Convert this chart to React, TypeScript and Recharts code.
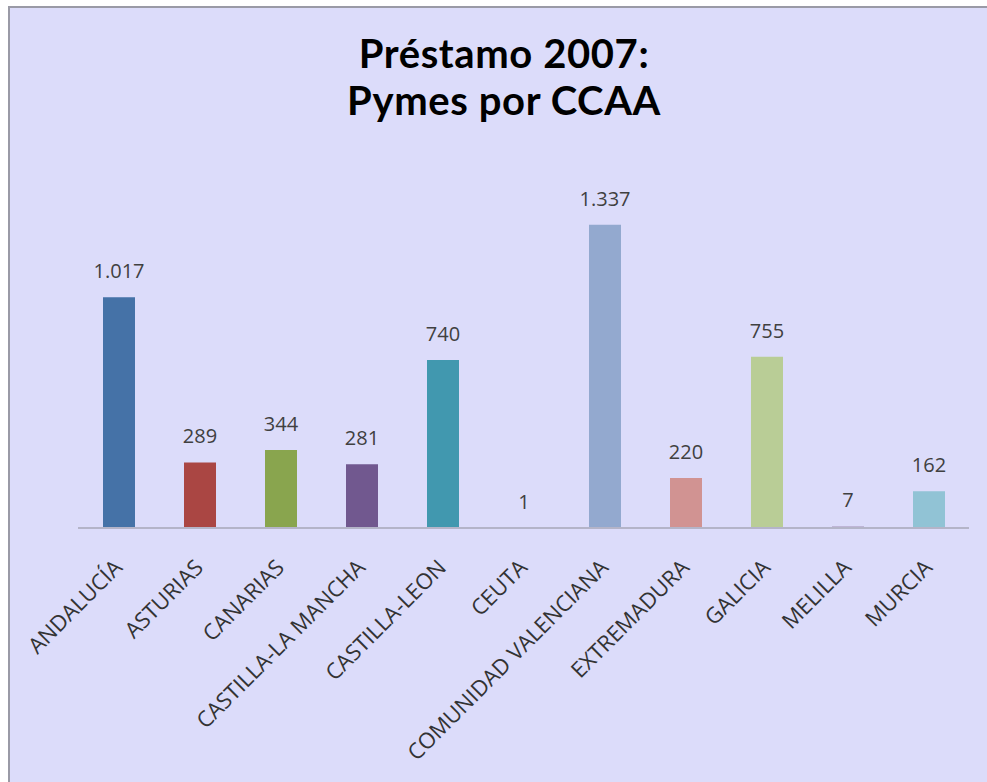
import { BarChart, Bar, XAxis, YAxis, Cell, LabelList } from 'recharts'

const regions = [
  'ANDALUCÍA', 'ASTURIAS', 'CANARIAS', 'CASTILLA-LA MANCHA', 'CASTILLA-LEON', 'CEUTA',
  'COMUNIDAD VALENCIANA', 'EXTREMADURA', 'GALICIA', 'MELILLA', 'MURCIA',
]
const pymes = [1017, 289, 344, 281, 740, 1, 1337, 220, 755, 7, 162]
const barColors = [
  '#4572A7', '#AA4643', '#89A54E', '#71588F', '#4198AF', '#DB843D',
  '#93A9CF', '#D19392', '#B9CD96', '#A99BBD', '#91C3D5',
]
const titleLines = ['Préstamo 2007:', 'Pymes por CCAA']

const data = regions.map((region, i) => ({ region, value: pymes[i] }))

// Spanish style thousands: 1.017
const fmt = (v: number) => String(v).replace(/\B(?=(\d{3})+(?!\d))/g, '.')

const font = '"Open Sans", "Noto Sans", sans-serif'

function RegionTick({ x, y, payload }: any) {
  const tx = x + 5
  const ty = y + 33
  return (
    <text
      x={tx}
      y={ty}
      transform={`rotate(-45 ${tx} ${ty})`}
      textAnchor="end"
      fontFamily={font}
      fontSize={22}
      fill="#333"
    >
      {payload.value}
    </text>
  )
}

export default function App() {
  return (
    <div
      style={{
        position: 'absolute', top: 0, left: 0, width: 987, height: 782,
        overflow: 'hidden', background: '#fff',
      }}
    >
      <div
        style={{
          position: 'absolute', left: 8, top: 6, width: 990, height: 790,
          background: '#dcdcfa', border: '2px solid #9a9aa6',
        }}
      />
      {titleLines.map((t, i) => (
        <div
          key={t}
          style={{
            position: 'absolute', left: 0, top: 30 + i * 47, width: 1008, textAlign: 'center',
            fontFamily: 'Lato, "Open Sans", sans-serif', fontWeight: 700, fontSize: 40,
            letterSpacing: 0.6, lineHeight: '47px', color: '#000',
          }}
        >
          {t}
        </div>
      ))}
      <div style={{ position: 'absolute', left: 0, top: 0 }}>
        <BarChart
          width={987}
          height={782}
          data={data}
          margin={{ top: 165, right: 18, bottom: 0, left: 78 }}
        >
          <XAxis
            dataKey="region"
            interval={0}
            height={254}
            tickLine={false}
            axisLine={{ stroke: '#b4b4c8', strokeWidth: 2 }}
            tick={<RegionTick />}
          />
          <YAxis hide domain={[0, 1600]} />
          <Bar dataKey="value" barSize={32} isAnimationActive={false}>
            {data.map((d, i) => (
              <Cell key={d.region} fill={barColors[i]} />
            ))}
            <LabelList
              dataKey="value"
              position="top"
              offset={19}
              formatter={(v: any) => fmt(Number(v))}
              style={{ fontFamily: font, fontSize: 20, fill: '#404040' }}
            />
          </Bar>
        </BarChart>
      </div>
    </div>
  )
}
